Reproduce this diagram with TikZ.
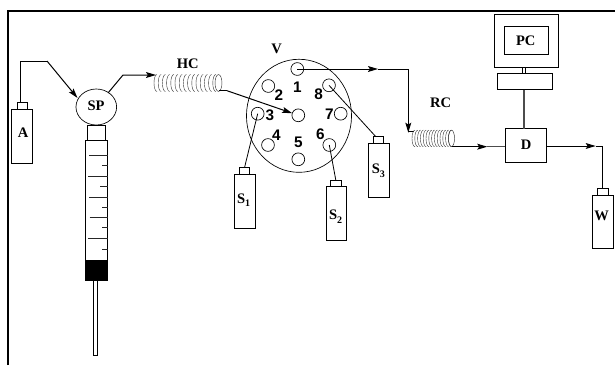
\documentclass[tikz,border=0pt]{standalone}
\usepackage{fontspec}
\setmainfont{Liberation Serif}
\setsansfont{Liberation Sans}
\usetikzlibrary{arrows.meta,shapes.geometric}
\tikzset{
  wire/.style={line width=0.75pt,black},
  arrowwire/.style={wire,-{Stealth[length=7.5pt,width=4.4pt,inset=1.4pt]}},
  partbox/.style={draw=black,line width=0.7pt,inner sep=0pt,outer sep=0pt,fill=white},
  hole/.style={circle,draw=black,line width=0.5pt,inner sep=0pt,outer sep=0pt,minimum size=9.6pt},
  lab/.style={font=\rmfamily\bfseries\fontsize{10.9}{12}\selectfont,inner sep=0pt},
  num/.style={font=\sffamily\bfseries\fontsize{11.5}{13}\selectfont,inner sep=0pt},
  coilline/.style={line width=0.3pt,black!80},
  tick/.style={line width=0.7pt,black!85},
}
\newcommand{\pbox}[6][]{\node[partbox,#1,minimum width={(#5-#3)*0.75pt},minimum height={(#6-#4)*0.75pt}] (#2) at ({(#3+#5)/2},{(#4+#6)/2}) {};}
\newcommand{\lowidx}[1]{\raisebox{-2.4pt}{\fontsize{7.5}{8}\selectfont #1}}
\begin{document}
\begin{tikzpicture}[x=0.75pt,y=-0.75pt]
\useasboundingbox (0,0) rectangle (615,365);
% frame
\draw[line width=1.5pt] (8,365) -- (8,10.5) -- (615,10.5);
% bottle A
\pbox{A}{11.7}{109}{32}{163}
\pbox{Acap}{17}{102}{27.5}{109}
\node[lab] (Alab) at (23,132.5) {A};
% syringe pump
\node[ellipse,draw=black,line width=0.5pt,inner sep=0pt,outer sep=0pt,minimum width=30.5pt,minimum height=27pt] (SP) at (96.3,107) {};
\node[lab] (SPlab) at (96,106) {SP};
\pbox{neck}{87.5}{125}{105}{140}
\pbox{barrel}{85}{140}{107.7}{280}
\pbox[fill=black]{plunger}{85}{260}{107.7}{280}
\pbox{needle}{93.3}{280}{97.3}{355}
\foreach \yy/\xx in {155/89,165.7/102,176/88,186/100,197/89,207.5/102,217/89.5,227.7/102,238.7/88,249.3/102}
  \draw[tick] (\xx,\yy) -- (107.7,\yy);
% wires left
\coordinate (a1) at (20,61);
\coordinate (a2) at (47,61);
\draw[wire] (Acap.north -| a1) -- (a1) -- (a2);
\coordinate (sptip) at (77.5,98);
\draw[arrowwire] (a2) -- (sptip);
\coordinate (sp1) at (108,93);
\coordinate (sp2) at (123,75);
\coordinate (hcin) at (156,75);
\draw[arrowwire] (sp1) -- (sp2) -- (hcin);
% HC coil
\foreach \i in {0,...,14}
  \draw[coilline] ({157+\i*4.2},91.5) arc[start angle=90,end angle=270,x radius=3,y radius=8.5];
\node[ellipse,draw=black!80,line width=0.35pt,inner sep=0pt,outer sep=0pt,minimum width=5.2pt,minimum height=12.6pt] (HCend) at (218.5,83) {};
\node[lab] (HClab) at (187.7,63.7) {HC};
% valve
\node[ellipse,draw=black,line width=0.5pt,inner sep=0pt,outer sep=0pt,minimum width=78.8pt,minimum height=84.8pt] (V) at (299,115.8) {};
\node[lab] (Vlab) at (276.7,49.3) {V};
\node[hole] (h1) at (297.3,69) {};
\node[hole] (h2) at (268.3,86) {};
\node[hole] (h3) at (257.7,113.7) {};
\node[hole] (h4) at (268,145) {};
\node[hole] (h5) at (298.3,159.3) {};
\node[hole] (h6) at (329.3,145) {};
\node[hole] (h7) at (340.7,113.7) {};
\node[hole] (h8) at (329,85.3) {};
\node[hole] (h0) at (298.3,115.3) {};
\node[num] (n1) at (297.3,87) {1};
\node[num] (n2) at (279,95) {2};
\node[num] (n3) at (270,115) {3};
\node[num] (n4) at (276.3,135.3) {4};
\node[num] (n5) at (298.3,142.7) {5};
\node[num] (n6) at (320.3,134.3) {6};
\node[num] (n7) at (329.3,114.7) {7};
\node[num] (n8) at (318.7,94.7) {8};
% HC to valve
\coordinate (hc1) at (218.5,90.7);
\coordinate (hc2) at (227,90.7);
\draw[wire] (hc1) -- (hc2);
\draw[arrowwire] (hc2) -- (h0);
% sample bottles
\pbox{S1}{234.3}{174.3}{255}{228.7}
\pbox{S1cap}{239.3}{167.7}{249.7}{174.3}
\node[lab] (S1lab) at (243.7,200) {S\lowidx{1}};
\pbox{S2}{326.3}{186}{346.7}{240}
\pbox{S2cap}{330.7}{180.3}{341}{186}
\node[lab] (S2lab) at (335.7,216.7) {S\lowidx{2}};
\pbox{S3}{368.7}{143.3}{389.3}{197.3}
\pbox{S3cap}{373.7}{136.7}{383.3}{143.3}
\node[lab] (S3lab) at (378.3,170.7) {S\lowidx{3}};
\draw[wire,line width=0.6pt] (h3.center) -- (S1cap.north);
\draw[wire,line width=0.6pt] (h6.center) -- (S2cap.north);
\draw[wire,line width=0.6pt] (h8.center) -- ([xshift=-2pt]S3cap.north);
% valve to RC
\coordinate (v1) at (378,69);
\coordinate (v2) at (408.3,69);
\coordinate (v3) at (408.3,132.7);
\draw[arrowwire] (h1.center) -- (v1);
\draw[wire] (v1) -- (v2);
\draw[arrowwire] (v2) -- (v3);
\coordinate (rc0) at (408.3,131);
\coordinate (rc1) at (414,131);
\draw[wire] (rc0) -- (rc1);
% RC coil
\foreach \i in {0,...,13}
  \draw[coilline] ({415+\i*2.8},146.7) arc[start angle=90,end angle=270,x radius=3,y radius=8.3];
\node[ellipse,draw=black!80,line width=0.35pt,inner sep=0pt,outer sep=0pt,minimum width=4.5pt,minimum height=12.4pt] (RCend) at (451.5,138.4) {};
\node[lab] (RClab) at (440.7,103) {RC};
% detector
\node[partbox,minimum width=30.75pt,minimum height=25.5pt] (D) at (525.8,145.7) {};
\node[lab] (Dlab) at (526,144.3) {D};
\coordinate (r1) at (452,146.7);
\coordinate (r2) at (487.3,146.7);
\draw[arrowwire] (r1) -- (r2);
\draw[line width=0.7pt,black!70] (r2) -- (D.west |- r2);
\coordinate (d1) at (595.7,146);
\coordinate (d2) at (602.7,146);
\draw[arrowwire] (D.east |- d1) -- (d1);
\draw[wire,line width=0.6pt] (d1) -- (d2);
% waste
\pbox{W}{592.3}{195.3}{613}{248.7}
\pbox{Wcap}{597.7}{188.7}{608.7}{195.3}
\node[lab] (Wlab) at (601.7,216) {W};
\draw[wire,line width=0.6pt] (d2) -- (d2 |- Wcap.north);
% computer
\pbox{PCo}{494.7}{14.3}{558.3}{67.7}
\pbox{PCi}{504.3}{26.3}{548}{54.3}
\node[lab] (PClab) at (525.7,40.7) {PC};
\pbox{base}{497.3}{73.3}{552.7}{89.7}
\pbox{conn}{522}{67.7}{525.3}{73.3}
\draw[line width=0.8pt,black!70] (base.south -| 524,0) -- (D.north -| 524,0);
\end{tikzpicture}
\end{document}
